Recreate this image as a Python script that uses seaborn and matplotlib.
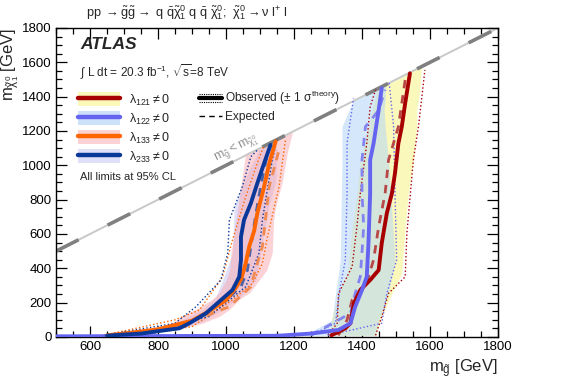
import numpy as np
import pandas as pd
import matplotlib
matplotlib.use("Agg")
import matplotlib.pyplot as plt
import seaborn as sns
from matplotlib.lines import Line2D
from matplotlib.patches import Patch
from matplotlib.legend_handler import HandlerBase, HandlerTuple
from matplotlib.ticker import MultipleLocator

# ---------------- data ----------------
# lambda_121
obs121_x = [1310, 1351, 1366, 1376, 1395, 1424, 1449, 1458, 1473, 1488, 1497, 1507, 1517, 1527, 1541]
obs121_y = [10, 51, 80, 196, 274, 332, 390, 546, 721, 837, 954, 1128, 1225, 1362, 1536]
exp121_x = [1330, 1356, 1371, 1410, 1434, 1449, 1468, 1478, 1507, 1527]
exp121_y = [10, 99, 216, 293, 449, 643, 837, 1031, 1225, 1497]
band121_y = [10, 118, 254, 371, 643, 837, 1031, 1225, 1322, 1439, 1575]
band121_lo = [1300, 1312, 1331, 1356, 1371, 1385, 1395, 1419, 1430, 1444, 1575]
band121_hi = [1440, 1458, 1488, 1517, 1527, 1536, 1551, 1561, 1561, 1570, 1575]
th121_up_x = [1440, 1458, 1478, 1527, 1532, 1551, 1566, 1585]
th121_up_y = [10, 118, 254, 351, 604, 1031, 1225, 1556]
th121_dn_x = [1300, 1327, 1331, 1371, 1385, 1395, 1414, 1424, 1440]
th121_dn_y = [10, 80, 254, 410, 643, 837, 1128, 1342, 1440]

# lambda_122
obs122_x = [500, 1150, 1250, 1331, 1366, 1380, 1400, 1414, 1419, 1424, 1424, 1434, 1449, 1458]
obs122_y = [4, 7, 20, 41, 80, 177, 274, 351, 546, 837, 1031, 1128, 1322, 1449]
exp122_x = [1250, 1366, 1380, 1395, 1405, 1400, 1400, 1410, 1449, 1468]
exp122_y = [10, 138, 254, 351, 643, 837, 1031, 1225, 1320, 1440]
band122_y = [10, 99, 254, 449, 1031, 1225, 1322, 1375, 1470]
band122_lo = [1230, 1312, 1322, 1336, 1341, 1341, 1362, 1375, 1470]
band122_hi = [1440, 1449, 1478, 1497, 1478, 1468, 1465, 1468, 1470]
th122_up_x = [1300, 1458, 1473, 1502, 1497, 1493, 1480]
th122_up_y = [10, 80, 254, 449, 837, 1225, 1480]
th122_dn_x = [1250, 1322, 1336, 1351, 1356, 1356, 1375]
th122_dn_y = [10, 80, 293, 449, 837, 1128, 1390]

# lambda_133
obs133_x = [650, 700, 800, 900, 950, 1000, 1030, 1045, 1058, 1068, 1083, 1092, 1112, 1127, 1146]
obs133_y = [10, 20, 45, 95, 150, 215, 290, 340, 430, 525, 620, 720, 875, 1010, 1140]
exp133_x = [680, 800, 900, 1010, 1073, 1092, 1107, 1127, 1156]
exp133_y = [10, 40, 90, 177, 293, 429, 526, 876, 1089]
band133_y = [10, 40, 80, 120, 160, 220, 260, 330, 390, 490, 680, 760, 900, 1070, 1190]
band133_lo = [640, 760, 840, 870, 910, 960, 980, 1000, 1010, 1015, 1029, 1035, 1045, 1058, 1190]
band133_hi = [700, 850, 930, 980, 1010, 1039, 1070, 1097, 1120, 1136, 1140, 1146, 1165, 1180, 1195]
th133_up_x = [700, 900, 1019, 1078, 1107, 1122, 1156, 1175]
th133_up_y = [10, 60, 216, 313, 429, 584, 876, 1148]
th133_dn_x = [640, 850, 922, 990, 1019, 1058, 1092, 1110]
th133_dn_y = [10, 100, 157, 351, 565, 817, 1012, 1110]

# lambda_233
obs233_x = [650, 750, 863, 892, 941, 980, 1019, 1039, 1044, 1044, 1053, 1073, 1092, 1112, 1131]
obs233_y = [8, 20, 51, 80, 138, 206, 274, 351, 449, 584, 682, 779, 895, 1012, 1119]
exp233_x = [680, 800, 900, 1000, 1044, 1063, 1073, 1088, 1102, 1122]
exp233_y = [10, 30, 90, 216, 293, 390, 526, 720, 876, 1070]
band233_y = [10, 40, 90, 160, 230, 332, 488, 759, 900, 1089, 1140]
band233_lo = [650, 760, 860, 930, 970, 990, 1019, 1024, 1050, 1097, 1140]
band233_hi = [720, 850, 930, 990, 1040, 1088, 1102, 1125, 1146, 1150, 1140]
th233_up_x = [720, 950, 1058, 1097, 1107, 1136, 1150]
th233_up_y = [10, 120, 293, 488, 682, 1031, 1150]
th233_dn_x = [640, 850, 912, 985, 1005, 1010, 1048, 1073, 1095]
th233_dn_y = [10, 80, 177, 332, 488, 682, 876, 1050, 1095]

diag = [500, 1800]
legend_labels = [r"$\lambda_{121} \neq 0$", r"$\lambda_{122} \neq 0$",
                 r"$\lambda_{133} \neq 0$", r"$\lambda_{233} \neq 0$"]

# ---------------- style ----------------
sns.set_theme(style="ticks")
plt.rcParams["font.family"] = ["Liberation Sans", "DejaVu Sans"]
plt.rcParams["mathtext.fontset"] = "custom"
plt.rcParams["mathtext.rm"] = "Liberation Sans"
plt.rcParams["mathtext.it"] = "Liberation Sans"
plt.rcParams["mathtext.bf"] = "Liberation Sans:bold"

fig = plt.figure(figsize=(5.67, 3.84), dpi=100)
ax = fig.add_axes([0.0988, 0.1224, 0.7795, 0.8047])

s121 = dict(obs=(obs121_x, obs121_y), exp=(exp121_x, exp121_y),
            band=(band121_y, band121_lo, band121_hi),
            up=(th121_up_x, th121_up_y), dn=(th121_dn_x, th121_dn_y),
            line="#a80000", dash="#b84848", fill="#fbf8bc", falpha=1.0,
            legfill="#fbf8b8")
s122 = dict(obs=(obs122_x, obs122_y), exp=(exp122_x, exp122_y),
            band=(band122_y, band122_lo, band122_hi),
            up=(th122_up_x, th122_up_y), dn=(th122_dn_x, th122_dn_y),
            line="#6464f0", dash="#8484f0", fill="#b4d6f8", falpha=0.55,
            legfill="#cde2f8")
s133 = dict(obs=(obs133_x, obs133_y), exp=(exp133_x, exp133_y),
            band=(band133_y, band133_lo, band133_hi),
            up=(th133_up_x, th133_up_y), dn=(th133_dn_x, th133_dn_y),
            line="#ff6600", dash="#f08a50", fill="#f8a8b0", falpha=0.5,
            legfill="#fcd2d4")
s233 = dict(obs=(obs233_x, obs233_y), exp=(exp233_x, exp233_y),
            band=(band233_y, band233_lo, band233_hi),
            up=(th233_up_x, th233_up_y), dn=(th233_dn_x, th233_dn_y),
            line="#0a3898", dash="#4a62a8", fill="#e0e0f8", falpha=1.0,
            legfill="#e0e0f8")
series = [s121, s122, s133, s233]

# bands (opaque ones first, translucent ones over them)
for s in [s121, s233, s122, s133]:
    by, blo, bhi = s["band"]
    ax.fill_betweenx(by, blo, bhi, color=s["fill"], alpha=s["falpha"], lw=0,
                     zorder=1)

# diagonal kinematic limit
sns.lineplot(x=diag, y=diag, ax=ax, color="#c8c8c8", lw=1.4, zorder=2)
sns.lineplot(x=diag, y=diag, ax=ax, color="#808080", lw=2.6, zorder=2,
             linestyle=(0, (7, 9)))
ax.text(1030, 1095, r"$m_{\tilde{g}} < m_{\tilde{\chi}^0_1}$", color="#909090",
        fontsize=9, rotation=26.7, ha="center", va="center", rotation_mode="anchor")

# theory dotted, expected dashed, observed solid
for s in series:
    for key in ("up", "dn"):
        xx, yy = s[key]
        sns.lineplot(x=xx, y=yy, ax=ax, sort=False, estimator=None, color=s["line"],
                     lw=1.0, linestyle=(0, (1, 1.6)), zorder=3)
for s in series:
    xx, yy = s["exp"]
    sns.lineplot(x=xx, y=yy, ax=ax, sort=False, estimator=None, color=s["dash"],
                 lw=2.0, linestyle=(0, (3, 2.5)), zorder=4)
for s in series:
    xx, yy = s["obs"]
    sns.lineplot(x=xx, y=yy, ax=ax, sort=False, estimator=None, color=s["line"],
                 lw=2.8, zorder=5)

# axes
ax.set_xlim(500, 1800)
ax.set_ylim(0, 1800)
ax.xaxis.set_major_locator(MultipleLocator(200))
ax.xaxis.set_minor_locator(MultipleLocator(50))
ax.yaxis.set_major_locator(MultipleLocator(200))
ax.yaxis.set_minor_locator(MultipleLocator(50))
ax.tick_params(which="both", direction="in", top=True, right=True, labelsize=9.5,
               width=0.9, colors="black", pad=3)
ax.tick_params(which="major", length=8)
ax.tick_params(which="minor", length=4)
for sp in ax.spines.values():
    sp.set_linewidth(1.0)
    sp.set_color("black")
ax.set_xlabel(r"$m_{\tilde{g}}$ [GeV]", fontsize=12, loc="right", labelpad=3)
ax.set_ylabel(r"$m_{\tilde{\chi}^0_1}$ [GeV]", fontsize=12, loc="top", labelpad=1)

# texts
fig.text(0.33, 0.967,
         r"pp $\rightarrow \tilde{g}\tilde{g} \rightarrow$ q $\bar{q}\tilde{\chi}^0_1$ q $\bar{q}$ $\tilde{\chi}^0_1$;  $\tilde{\chi}^0_1 \rightarrow \nu$ l$^{+}$ l",
         fontsize=9.2, ha="center", va="center")
ax.text(0.054, 0.945, "ATLAS", transform=ax.transAxes, fontsize=12.5,
        fontweight="bold", style="italic", va="center", ha="left")
ax.text(0.054, 0.855, r"$\int$ L dt = 20.3 fb$^{-1}$, $\sqrt{s}$=8 TeV",
        transform=ax.transAxes, fontsize=8.5, va="center", ha="left")
ax.text(0.054, 0.518, "All limits at 95% CL", transform=ax.transAxes,
        fontsize=8, va="center", ha="left")

# legend 1: bands + observed lines
handles = []
for s in series:
    handles.append((Patch(facecolor=s["legfill"], edgecolor="none"),
                    Line2D([], [], color=s["line"], lw=3.2)))
leg1 = ax.legend(handles, legend_labels,
                 handler_map={tuple: HandlerTuple(ndivide=1, pad=0)},
                 loc="upper left", bbox_to_anchor=(0.045, 0.80), borderaxespad=0,
                 frameon=False, fontsize=9, handlelength=3.3, handleheight=1.35,
                 labelspacing=0.3, handletextpad=0.75, borderpad=0.2)
ax.add_artist(leg1)


class HandlerObs(HandlerBase):
    def create_artists(self, legend, orig, xd, yd, w, h, fs, trans):
        yc = h / 2 - yd
        arts = [Line2D([-xd, w - xd], [yc, yc], color="black", lw=3, transform=trans)]
        for off in (2.8, -2.8):
            arts.append(Line2D([-xd, w - xd], [yc + off, yc + off], color="black",
                               lw=0.8, linestyle=(0, (1, 1)), transform=trans))
        return arts


obs_h = Line2D([], [], color="black")
exp_h = Line2D([], [], color="black", lw=1.0, linestyle=(0, (4, 3)))
leg2 = ax.legend([obs_h, exp_h],
                 [r"Observed ($\pm$ 1 $\sigma^{\mathrm{theory}}$)", "Expected"],
                 handler_map={obs_h: HandlerObs()}, loc="upper left",
                 bbox_to_anchor=(0.318, 0.81), borderaxespad=0, frameon=False,
                 fontsize=8.6, handlelength=1.9, labelspacing=0.35,
                 handletextpad=0.25, borderpad=0.2)

fig.savefig("out.png", dpi=100)
